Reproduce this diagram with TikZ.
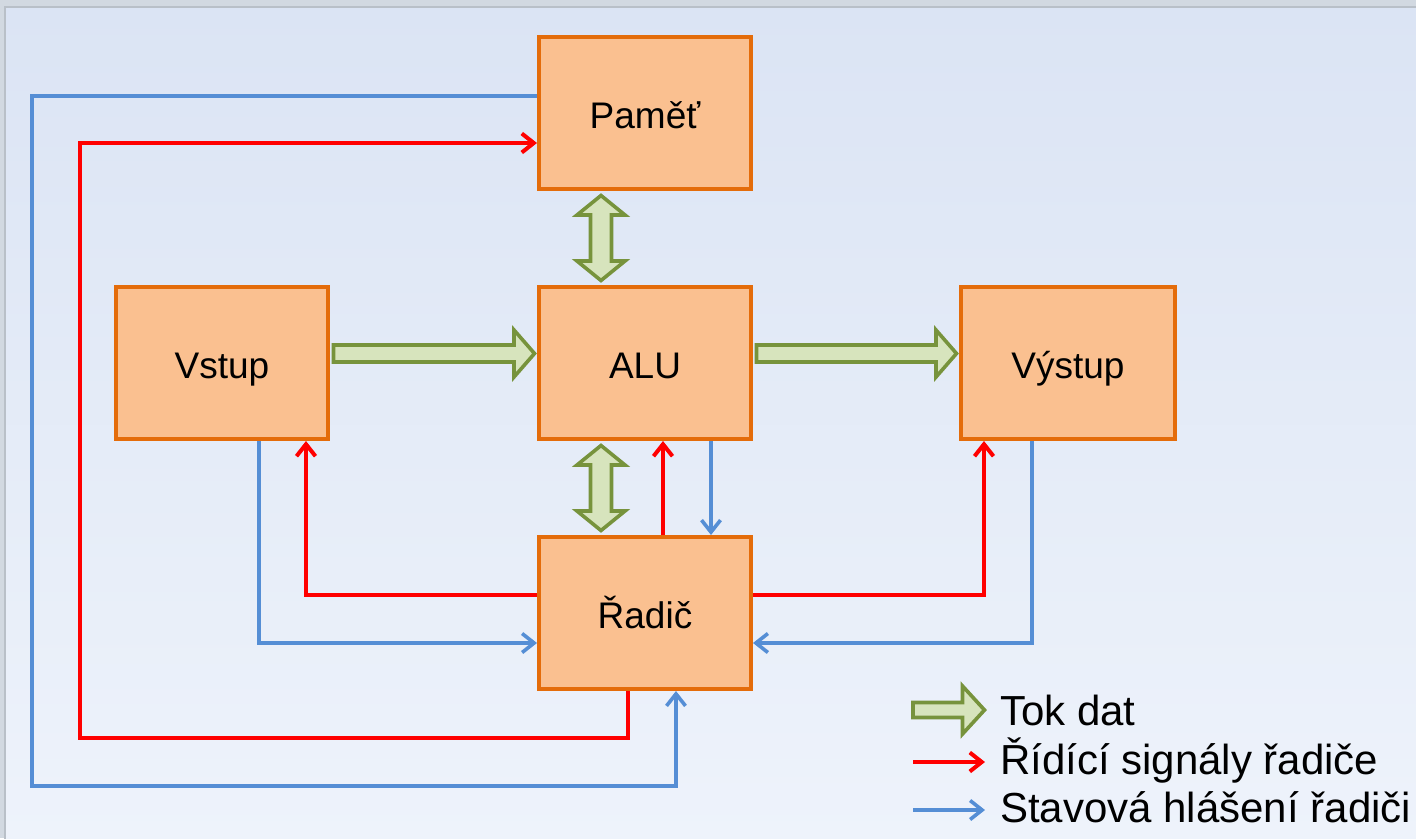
\documentclass[tikz,border=0pt]{standalone}
\usepackage{fontspec}
\setmainfont{Liberation Sans}
\usetikzlibrary{arrows.meta,calc}
\definecolor{boxfill}{HTML}{FAC090}
\definecolor{boxline}{HTML}{E46C0A}
\definecolor{fatfill}{HTML}{D7E4BD}
\definecolor{fatline}{HTML}{77933C}
\definecolor{sigred}{HTML}{FF0000}
\definecolor{sigblue}{HTML}{558ED5}
\definecolor{bgtop}{HTML}{DBE4F4}
\definecolor{bgbot}{HTML}{EEF3FB}
\definecolor{outerbg}{HTML}{D2D9E1}
\definecolor{frameline}{HTML}{B9C0C8}
\tikzset{
  blk/.style={draw=boxline, fill=boxfill, line width=4pt, minimum width=212pt,
    minimum height=152pt, inner sep=0pt, text height=30pt, text depth=0pt,
    font=\fontsize{37}{44}\selectfont},
  fat/.style={draw=fatline, fill=fatfill, line width=3.6pt, line join=miter},
  redsig/.style={draw=sigred, line width=4pt, -{Straight Barb[length=12pt,width=19pt]}},
  bluesig/.style={draw=sigblue, line width=3.6pt, -{Straight Barb[length=12pt,width=19pt]}},
  legtext/.style={anchor=base west, font=\fontsize{42}{50}\selectfont, inner sep=0pt},
}
% horizontal fat arrow; #3 = upward shift of axis from node centre
\newcommand\myFatH[3]{\draw[fat] let \p1=(#1), \p2=(#2) in
  (\x1+3.5pt,\y1+#3+8.5pt) -- (\x2-23pt,\y1+#3+8.5pt) -- (\x2-23pt,\y1+#3+23.5pt)
  -- (\x2-2.5pt,\y1+#3) -- (\x2-23pt,\y1+#3-23.5pt) -- (\x2-23pt,\y1+#3-8.5pt)
  -- (\x1+3.5pt,\y1+#3-8.5pt) -- cycle;}
% vertical double fat arrow; #3 = leftward shift of axis from node centre
\newcommand\myFatV[3]{\draw[fat] let \p1=(#1), \p2=(#2), \n1={\x1-#3} in
  (\n1,\y1-4.5pt) -- (\n1+24pt,\y1-24pt) -- (\n1+10.5pt,\y1-24pt)
  -- (\n1+10.5pt,\y2+24pt) -- (\n1+24pt,\y2+24pt) -- (\n1,\y2+4.5pt)
  -- (\n1-24pt,\y2+24pt) -- (\n1-10.5pt,\y2+24pt) -- (\n1-10.5pt,\y1-24pt)
  -- (\n1-24pt,\y1-24pt) -- cycle;}
\begin{document}
\begin{tikzpicture}[x=1pt,y=-1pt]
\useasboundingbox (0,0) rectangle (1416,838);
\fill[outerbg] (0,0) rectangle (1416,838);
\shade[top color=bgtop,bottom color=bgbot] (5,7) rectangle (1420,842);
\draw[frameline, line width=1.5pt] (5,842) -- (5,7) -- (1420,7);

\node[blk] (pamet) at (645,113) {Paměť};
\node[blk] (alu) at (645,363) {ALU};
\node[blk] (vstup) at (222,363) {Vstup};
\node[blk, minimum width=214pt] (vystup) at (1068,363) {Výstup};
\node[blk] (radic) at (645,613) {Řadič};

% data flow
\myFatH{vstup.east}{alu.west}{9.5pt}
\myFatH{alu.east}{vystup.west}{9.5pt}
\myFatV{pamet.south}{alu.north}{44pt}
\myFatV{alu.south}{radic.north}{44pt}

% corner coordinates
\coordinate (b1) at (32,96);
\coordinate (b2) at (32,786);
\coordinate (b3) at (676,786);
\coordinate (r1) at (628,738);
\coordinate (r2) at (80,738);
\coordinate (r3) at (80,143);
\coordinate (r4) at (306,595);
\coordinate (b4) at (259,643);
\coordinate (r5) at (984,595);
\coordinate (b5) at (1032,643);
\coordinate (r6) at (663,0);
\coordinate (b6) at (711,0);

\draw[bluesig] (pamet.west |- b1) -- (b1) -- (b2) -- (b3) -- (b3 |- radic.south);
\draw[redsig] (r1 |- radic.south) -- (r1) -- (r2) -- (r3) -- (r3 -| pamet.west);
\draw[redsig] (radic.west |- r4) -- (r4) -- (r4 |- vstup.south);
\draw[bluesig] (b4 |- vstup.south) -- (b4) -- (b4 -| radic.west);
\draw[redsig] (radic.east |- r5) -- (r5) -- (r5 |- vystup.south);
\draw[bluesig] (b5 |- vystup.south) -- (b5) -- (b5 -| radic.east);
\draw[redsig] (r6 |- radic.north) -- (r6 |- alu.south);
\draw[bluesig] (b6 |- alu.south) -- (b6 |- radic.north);

% legend
\node[legtext] (l1) at (1000,725) {Tok dat};
\node[legtext] (l2) at (1000,774) {Řídící signály řadiče};
\node[legtext] (l3) at (1000,822) {Stavová hlášení řadiči};
\draw[fat] (913,702.5) -- (962.5,702.5) -- (962.5,686) -- (984.5,710) -- (962.5,734)
  -- (962.5,717.5) -- (913,717.5) -- cycle;
\coordinate (lr1) at (913,762);
\coordinate (lr2) at (985,762);
\coordinate (lb1) at (913,810);
\coordinate (lb2) at (985,810);
\draw[redsig] (lr1) -- (lr2);
\draw[bluesig] (lb1) -- (lb2);
\end{tikzpicture}
\end{document}
